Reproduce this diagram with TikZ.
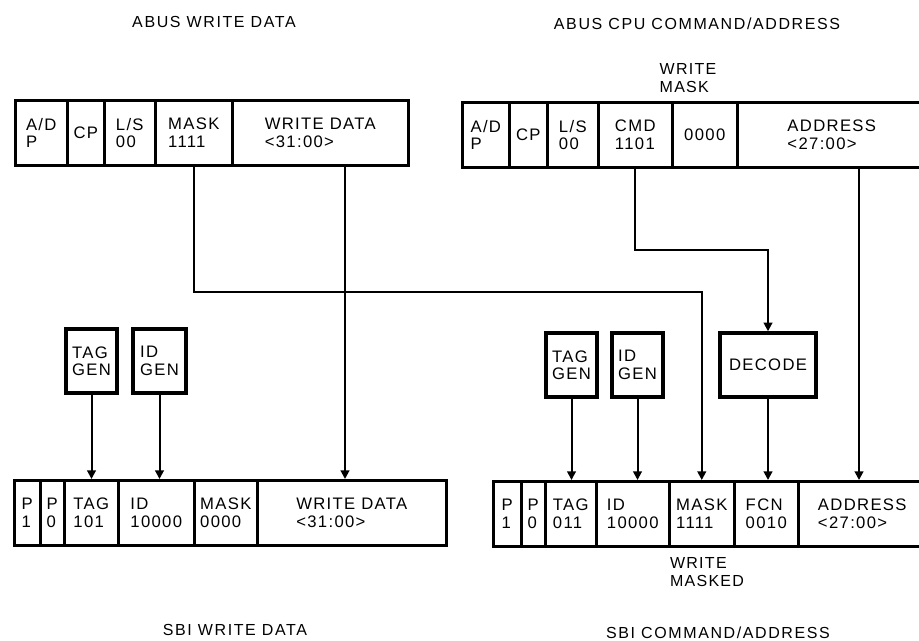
\documentclass[tikz,border=0pt]{standalone}
\usepackage{fontspec}
\usetikzlibrary{arrows.meta,calc}
\newfontfamily\labfont[LetterSpace=8]{Liberation Sans}
\newfontfamily\titfont[LetterSpace=10]{Liberation Sans}
\tikzset{
  cell/.style={draw, line width=1.9pt, minimum height=48.75pt, inner sep=0pt,
    anchor=north west, align=left, font=\labfont\fontsize{12.5}{13}\selectfont},
  genbox/.style={draw, line width=2.6pt, minimum height=48pt, inner sep=0pt,
    align=left, font=\labfont\fontsize{12.5}{13}\selectfont},
  conn/.style={line width=1.5pt, -{Triangle[length=6.5pt,width=6.5pt]}},
  title/.style={font=\titfont\fontsize{12}{14}\selectfont},
  note/.style={align=left, font=\labfont\fontsize{12}{14}\selectfont}
}
\begin{document}
\begin{tikzpicture}[x=0.75pt,y=-0.75pt]
\useasboundingbox (0,0) rectangle (919,641);
% titles
\node[title] (t1) at (214,22) {ABUS WRITE DATA};
\node[title] (t2) at (697,24) {ABUS CPU COMMAND/ADDRESS};
\node[title] (t3) at (235,630) {SBI WRITE DATA};
\node[title] (t4) at (718,633) {SBI COMMAND/ADDRESS};
% top-left register
\node[cell, minimum width=39pt]    (tlad)   at (14,99)  {A/D\\P};
\node[cell, minimum width=27.75pt] (tlcp)   at (66,99)  {CP};
\node[cell, minimum width=38.25pt] (tlls)   at (103,99) {L/S\\00};
\node[cell, minimum width=57.75pt] (tlmask) at (154,99) {MASK\\1111};
\node[cell, minimum width=132pt]   (tlwd)   at (231,99) {WRITE DATA\\<31:00>};
% top-right register
\node[cell, minimum width=35.25pt] (trad)   at (461,101) {A/D\\P};
\node[cell, minimum width=28.5pt]  (trcp)   at (508,101) {CP};
\node[cell, minimum width=38.25pt] (trls)   at (546,101) {L/S\\00};
\node[cell, minimum width=55.5pt]  (trcmd)  at (597,101) {CMD\\1101};
\node[cell, minimum width=48.75pt] (trmask) at (671,101) {0000};
\node[cell, minimum width=141.75pt] (traddr) at (736,101) {ADDRESS\\<27:00>};
\node[note] (wm) at (688,78) {WRITE\\MASK};
% bottom-left register
\node[cell, minimum width=19.5pt]  (blp1)   at (13,479)  {P\\1};
\node[cell, minimum width=18pt]    (blp0)   at (39,479)  {P\\0};
\node[cell, minimum width=40.5pt]  (bltag)  at (63,479)  {TAG\\101};
\node[cell, minimum width=57pt]    (blid)   at (117,479) {ID\\10000};
\node[cell, minimum width=47.25pt] (blmask) at (193,479) {MASK\\0000};
\node[cell, minimum width=141.75pt] (blwd)  at (256,479) {WRITE DATA\\<31:00>};
% bottom-right register
\node[cell, minimum width=21pt]    (brp1)   at (492,480) {P\\1};
\node[cell, minimum width=18pt]    (brp0)   at (520,480) {P\\0};
\node[cell, minimum width=38.25pt] (brtag)  at (544,480) {TAG\\011};
\node[cell, minimum width=54.75pt] (brid)   at (595,480) {ID\\10000};
\node[cell, minimum width=48.75pt] (brmask) at (668,480) {MASK\\1111};
\node[cell, minimum width=48pt]    (brfcn)  at (733,480) {FCN\\0010};
\node[cell, minimum width=96pt]    (braddr) at (797,480) {ADDRESS\\<27:00>};
\node[note] (wmd) at (707,572) {WRITE\\MASKED};
% generator boxes
\node[genbox, minimum width=38.25pt] (ltag) at (91.5,361) {TAG\\GEN};
\node[genbox, minimum width=39.75pt] (lid)  at (159.5,361) {ID\\GEN};
\node[genbox, minimum width=38.25pt] (rtag) at (571.5,365) {TAG\\GEN};
\node[genbox, minimum width=38.25pt] (rid)  at (637.5,365) {ID\\GEN};
\node[genbox, minimum width=72pt]    (decode) at (768,365) {DECODE};
% junction coordinates
\coordinate (j1) at (0,292);
\coordinate (j2) at (0,250);
\coordinate (wdx) at ($(tlwd.south west)+(114,0)$);
\coordinate (adx) at ($(traddr.south west)+(123,0)$);
% connectors
\draw[conn] (tlmask.south) -- (tlmask.south |- j1) -| (brmask.north);
\draw[conn] (wdx) -- (wdx |- blwd.north);
\draw[conn] (trcmd.south) -- (trcmd.south |- j2) -| (decode.north);
\draw[conn] (adx) -- (adx |- braddr.north);
\draw[conn] (decode.south) -- (decode.south |- brfcn.north);
\draw[conn] (ltag.south) -- (ltag.south |- bltag.north);
\draw[conn] (lid.south) -- (lid.south |- blid.north);
\draw[conn] (rtag.south) -- (rtag.south |- brtag.north);
\draw[conn] (rid.south) -- (rid.south |- brid.north);
\end{tikzpicture}
\end{document}
